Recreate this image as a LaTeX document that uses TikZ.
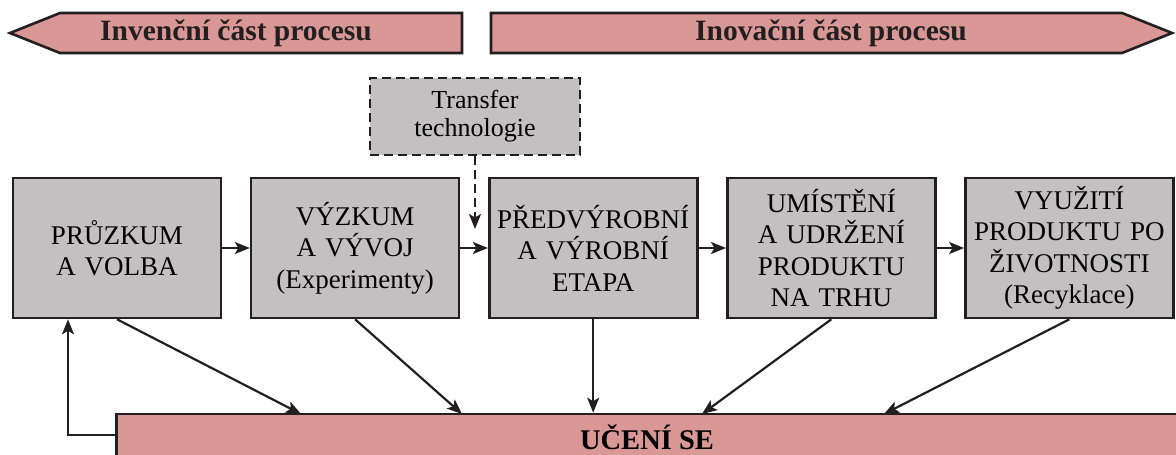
\documentclass[tikz,border=0pt]{standalone}
\usepackage{fontspec}
\setmainfont{Liberation Serif}
\usepackage{xcolor}
\usepackage{tikz}
\usetikzlibrary{positioning, arrows.meta}
\definecolor{phasepink}{RGB}{217,151,149}
\definecolor{stagegrey}{RGB}{194,192,192}
\definecolor{linedark}{RGB}{35,31,32}
\tikzstyle{stage} = [rectangle, minimum width=208pt, minimum height=140pt, text width=200pt, inner sep=2pt, align=center, draw=linedark, line width=2.6pt, fill=stagegrey, font=\fontsize{27}{31.5}\selectfont]
\tikzstyle{transfer} = [rectangle, minimum width=210pt, minimum height=77pt, inner sep=2pt, align=center, draw=linedark, line width=2.6pt, dash pattern=on 9pt off 5pt, fill=stagegrey, font=\fontsize{26}{28}\selectfont]
\tikzstyle{phase} = [draw=linedark, line width=2.6pt, fill=phasepink, line join=miter]
\tikzstyle{title} = [font=\fontsize{29.5}{33}\selectfont\bfseries, text=linedark]
\tikzstyle{learn} = [rectangle, minimum width=1061pt, minimum height=46pt, draw=linedark, line width=2.6pt, fill=phasepink, font=\fontsize{28.5}{32}\selectfont\bfseries]
\tikzstyle{arrow} = [line width=2.2pt, draw=linedark, -{Stealth[length=15pt,width=12pt,inset=3.5pt]}]

\begin{document}
\begin{tikzpicture}[x=1pt, y=-1pt, node distance=27.5pt]
	\useasboundingbox (0,0) rectangle (1176,455);
	
	\draw [phase] (10,33) -- (60,13) -- (462,13) -- (462,53) -- (60,53) -- cycle;
	\draw [phase] (491,13) -- (1122,13) -- (1172,33) -- (1122,53) -- (491,53) -- cycle;
	\node (Invence) [title] at (236,33) {Invenční část procesu};
	\node (Inovace) [title] at (831,33) {Inovační část procesu};
	
	\node (Pruzkum) [stage] at (117,248) {PRŮZKUM\\A VOLBA};
	\node (Vyzkum) [stage, right=of Pruzkum] {VÝZKUM\\A VÝVOJ\\(Experimenty)};
	\node (Vyroba) [stage, right=of Vyzkum] {PŘEDVÝROBNÍ\\A VÝROBNÍ\\ETAPA};
	\node (Trh) [stage, right=of Vyroba] {UMÍSTĚNÍ\\A UDRŽENÍ\\PRODUKTU\\NA TRHU};
	\node (Recyklace) [stage, right=of Trh] {VYUŽITÍ\\PRODUKTU PO\\ŽIVOTNOSTI\\(Recyklace)};
	\node (Transfer) [transfer] at (475,116.5) {Transfer\\technologie};
	\node (Uceni) [learn] at (647,437) {UČENÍ SE};
	
	\coordinate (TransferEnd) at (475,229);
	\coordinate (UceniA) at (301,414);
	\coordinate (UceniB) at (462,414);
	\coordinate (UceniD) at (702,414);
	\coordinate (UceniE) at (884,414);
	\coordinate (Zpet) at (68,435);
	
	\draw [arrow] (Pruzkum) -- (Vyzkum);
	\draw [arrow] (Vyzkum) -- (Vyroba);
	\draw [arrow] (Vyroba) -- (Trh);
	\draw [arrow] (Trh) -- (Recyklace);
	\draw [arrow, dash pattern=on 9pt off 5pt] (Transfer) -- (TransferEnd);
	\draw [arrow] (Pruzkum.south) -- (UceniA);
	\draw [arrow] (Vyzkum.south) -- (UceniB);
	\draw [arrow] (Vyroba) -- (Vyroba |- Uceni.north);
	\draw [arrow] (Trh.south) -- (UceniD);
	\draw [arrow] (Recyklace.south) -- (UceniE);
	\draw [arrow] (Zpet -| Uceni.west) -- (Zpet) -- (Zpet |- Pruzkum.south);
\end{tikzpicture}
\end{document}
